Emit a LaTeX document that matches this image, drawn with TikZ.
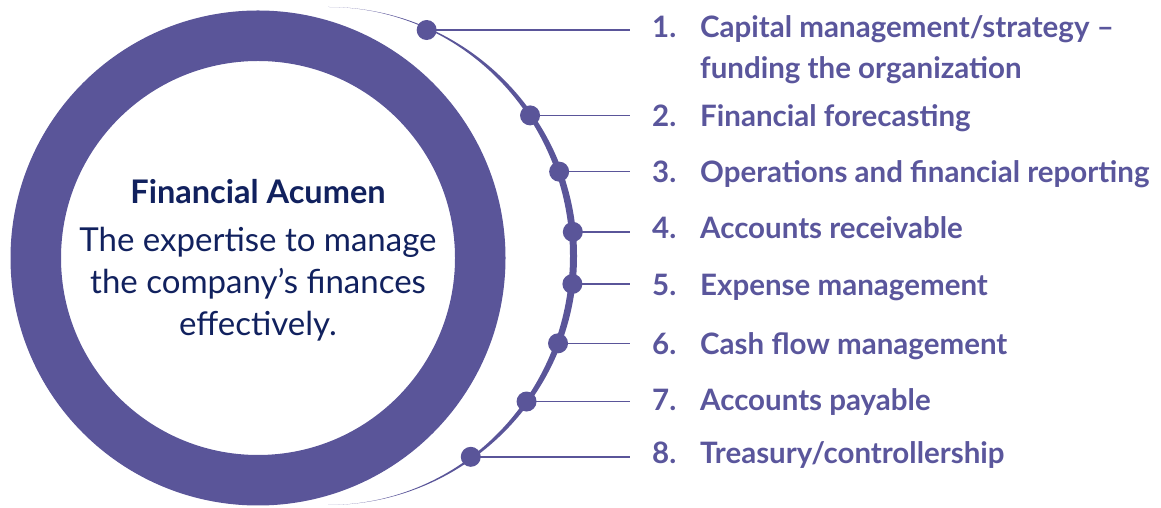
\documentclass[tikz,border=0pt]{standalone}
\usepackage{fontspec}
\setmainfont{Lato}
\usetikzlibrary{calc}
\definecolor{ringpurple}{HTML}{5A5599}
\definecolor{itempurple}{HTML}{5A569C}
\definecolor{navy}{HTML}{11215E}
\tikzset{
  dotmark/.style={circle, fill=ringpurple, inner sep=0pt, minimum size=20pt},
  leader/.style={draw=ringpurple, line width=1.4pt},
  numlabel/.style={anchor=base west, inner sep=0pt, text=itempurple, font=\fontsize{29.5}{35}\selectfont\bfseries},
  itemlabel/.style={anchor=base west, inner sep=0pt, text=itempurple, align=left, font=\fontsize{29.5}{41}\selectfont\bfseries},
}
\begin{document}
\begin{tikzpicture}[x=1pt,y=1pt]
\useasboundingbox (0,0) rectangle (1161,508);
% big ring
\fill[ringpurple, even odd rule] (258,250) circle (247.5) (258,250) circle (197);
% crescent arc
\fill[ringpurple] (328,501) arc[start angle=90, end angle=-90, radius=249]
  arc[start angle=-90, end angle=90, x radius=242, y radius=249] -- cycle;
% centre text
\node[text=navy, font=\fontsize{32.5}{38}\selectfont\bfseries, anchor=base] (title) at (258,304) {Financial Acumen};
\node[text=navy, font=\fontsize{33}{42}\selectfont, align=center, anchor=base] (body) at (258,172) {The expertise to manage\\the company’s finances\\effectively.};
% dots, leaders and labels
\foreach \i/\ang/\ypx/\nb/\txt in {
  1/66.2/79/38/{Capital management/strategy –\\funding the organization},
  2/34.7/127/127/{Financial forecasting},
  3/19.97/183/183/{Operations and financial reporting},
  4/5.6/239/239/{Accounts receivable},
  5/-6.5/296/296/{Expense management},
  6/-20.7/355/355/{Cash flow management},
  7/-36.1/411/411/{Accounts payable},
  8/-54.4/464/464/{Treasury/controllership}}{
  \node[dotmark] (d\i) at ($(327,252)+(\ang:247)$) {};
  \path let \p1=(d\i.center) in coordinate (e\i) at (630,\y1);
  \draw[leader] (d\i.center) -- (e\i);
  \node[itemlabel] (t\i) at (700,{508-\ypx}) {\txt};
  \node[numlabel] (n\i) at (652,{508-\nb}) {\i.};
}
\end{tikzpicture}
\end{document}
